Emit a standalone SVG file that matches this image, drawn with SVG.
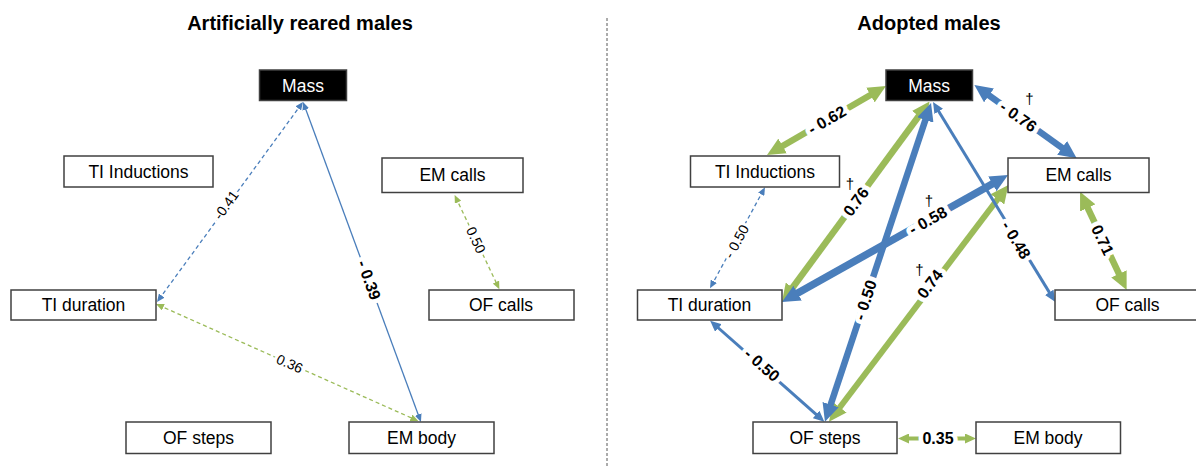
<svg xmlns="http://www.w3.org/2000/svg" width="1196" height="466" viewBox="0 0 1196 466">
<style>
.title{font-family:"Liberation Sans",Arial,sans-serif;font-weight:bold;font-size:20px;fill:#000;text-anchor:middle}
.box{fill:#fff;stroke:#404040;stroke-width:1.5}
.mbox{fill:#000;stroke:#404040;stroke-width:1.5}
.nt{font-family:"Liberation Sans",Arial,sans-serif;font-size:17.5px;fill:#000;text-anchor:middle;dominant-baseline:central}
.mt{font-family:"Liberation Sans",Arial,sans-serif;font-size:17.5px;fill:#fff;text-anchor:middle;dominant-baseline:central}
.b{stroke:#4a7ebb;fill:none}
.g{stroke:#9bbb59;fill:none}
.dash{stroke-dasharray:4 3}
.thin{stroke-width:1.3}
.lb{font-family:"Liberation Sans",Arial,sans-serif;font-weight:bold;font-size:16px;fill:#000;text-anchor:middle;dominant-baseline:central;stroke:#fff;stroke-width:9;stroke-linejoin:round;paint-order:stroke}
.ln{font-family:"Liberation Sans",Arial,sans-serif;font-size:14px;fill:#000;text-anchor:middle;dominant-baseline:central;stroke:#fff;stroke-width:6;stroke-linejoin:round;paint-order:stroke}
.dg{font-family:"Liberation Sans",Arial,sans-serif;font-size:15px;fill:#000;text-anchor:middle}
</style>
<defs>
<marker id="bL" markerUnits="userSpaceOnUse" markerWidth="18" markerHeight="17" viewBox="0 0 18 17" refX="9" refY="8.5" orient="auto-start-reverse"><path d="M0,0 L18,8.5 L0,17 z" fill="#4a7ebb"/></marker>
<marker id="gL" markerUnits="userSpaceOnUse" markerWidth="18" markerHeight="17" viewBox="0 0 18 17" refX="9" refY="8.5" orient="auto-start-reverse"><path d="M0,0 L18,8.5 L0,17 z" fill="#9bbb59"/></marker>
<marker id="bM" markerUnits="userSpaceOnUse" markerWidth="11" markerHeight="10" viewBox="0 0 11 10" refX="6" refY="5" orient="auto-start-reverse"><path d="M0,0 L11,5 L0,10 z" fill="#4a7ebb"/></marker>
<marker id="gM" markerUnits="userSpaceOnUse" markerWidth="11" markerHeight="10" viewBox="0 0 11 10" refX="6" refY="5" orient="auto-start-reverse"><path d="M0,0 L11,5 L0,10 z" fill="#9bbb59"/></marker>
<marker id="bS" markerUnits="userSpaceOnUse" markerWidth="8" markerHeight="7" viewBox="0 0 8 7" refX="5.5" refY="3.5" orient="auto-start-reverse"><path d="M0,0 L8,3.5 L0,7 z" fill="#4a7ebb"/></marker>
<marker id="gS" markerUnits="userSpaceOnUse" markerWidth="8" markerHeight="7" viewBox="0 0 8 7" refX="5.5" refY="3.5" orient="auto-start-reverse"><path d="M0,0 L8,3.5 L0,7 z" fill="#9bbb59"/></marker>
</defs>
<rect width="1196" height="466" fill="#fff"/>
<g id="titles">
<text class="title" x="300" y="30">Artificially reared males</text>
<text class="title" x="929" y="30">Adopted males</text>
<line x1="607" y1="18" x2="607" y2="466" stroke="#595959" stroke-width="1" stroke-dasharray="3 2"/>
</g>
<g id="connectors">
<line class="b dash thin" x1="301.5" y1="104" x2="158.5" y2="300" marker-start="url(#bS)" marker-end="url(#bS)"/>
<line class="b thin" x1="303.9" y1="104.3" x2="420.1" y2="419.7" marker-start="url(#bS)" marker-end="url(#bS)"/>
<line class="g dash thin" x1="455.7" y1="197.3" x2="498.3" y2="287" marker-start="url(#gS)" marker-end="url(#gS)"/>
<line class="g dash thin" x1="158.3" y1="305" x2="416" y2="420" marker-start="url(#gS)" marker-end="url(#gS)"/>
<line class="g" stroke-width="6.5" x1="774.8" y1="150.5" x2="878.2" y2="90.5" marker-start="url(#gL)" marker-end="url(#gL)"/>
<line class="g" stroke-width="6.5" x1="924.2" y1="108.8" x2="787.3" y2="294.8" marker-start="url(#gL)" marker-end="url(#gL)"/>
<line class="g" stroke-width="6" x1="834.4" y1="414.5" x2="1002.9" y2="192.2" marker-start="url(#gL)" marker-end="url(#gL)"/>
<line class="g" stroke-width="6.5" x1="1083.9" y1="199.8" x2="1122.8" y2="281.9" marker-start="url(#gL)" marker-end="url(#gL)"/>
<line class="g" stroke-width="4" x1="903" y1="438.5" x2="971" y2="438.5" marker-start="url(#gM)" marker-end="url(#gM)"/>
<line class="b" stroke-width="6.5" x1="981.7" y1="90.2" x2="1069.4" y2="153.1" marker-start="url(#bL)" marker-end="url(#bL)"/>
<line class="b" stroke-width="6.5" x1="928.2" y1="111.5" x2="827.8" y2="413.2" marker-start="url(#bL)" marker-end="url(#bL)"/>
<line class="b" stroke-width="3" x1="935.6" y1="106.3" x2="1052.4" y2="297.4" marker-start="url(#bM)" marker-end="url(#bM)"/>
<line class="b" stroke-width="7.5" x1="789.8" y1="297.6" x2="1000.2" y2="179.4" marker-start="url(#bL)" marker-end="url(#bL)"/>
<line class="b dash thin" x1="711.2" y1="286.1" x2="763.8" y2="189.5" marker-start="url(#bS)" marker-end="url(#bS)"/>
<line class="b" stroke-width="3" x1="713.9" y1="324" x2="820.6" y2="418.4" marker-start="url(#bM)" marker-end="url(#bM)"/>
</g>
<g id="connector-labels">
<text class="ln" transform="translate(226,205) rotate(-53.9)">-0.41</text>
<text class="lb" transform="translate(369,280) rotate(69.75)">- 0.39</text>
<text class="ln" transform="translate(476,240) rotate(64.6)">0.50</text>
<text class="ln" transform="translate(289.7,363.6) rotate(24)">0.36</text>
<text class="lb" transform="translate(827,120) rotate(-30.1)">- 0.62</text>
<text class="lb" transform="translate(1018.3,116.6) rotate(35.5)">- 0.76</text>
<text class="dg" x="1029.5" y="104">†</text>
<text class="lb" transform="translate(856,201.7) rotate(-53.66)">0.76</text>
<text class="dg" x="850" y="189">†</text>
<text class="lb" transform="translate(865.5,300) rotate(-71.6)">- 0.50</text>
<text class="lb" transform="translate(1016,240) rotate(58.6)">- 0.48</text>
<text class="lb" transform="translate(928,220.5) rotate(-29.3)">- 0.58</text>
<text class="dg" x="929" y="206">†</text>
<text class="lb" transform="translate(930,284) rotate(-52.9)">0.74</text>
<text class="dg" x="919.5" y="275">†</text>
<text class="lb" transform="translate(1102.5,240) rotate(64.6)">0.71</text>
<text class="ln" transform="translate(736.5,241.5) rotate(-61.4)">- 0.50</text>
<text class="lb" transform="translate(762,365) rotate(41.5)">- 0.50</text>
<text class="lb" x="938" y="438.5">0.35</text>
</g>
<g id="node-left-mass"><rect class="mbox" x="259.5" y="70" width="87" height="30.5"/><text class="mt" x="303" y="85.5">Mass</text></g>
<g id="node-left-ti-inductions"><rect class="box" x="64" y="156" width="149" height="31"/><text class="nt" x="138.5" y="171.5">TI Inductions</text></g>
<g id="node-left-em-calls"><rect class="box" x="382" y="158" width="141" height="34.5"/><text class="nt" x="452.5" y="175">EM calls</text></g>
<g id="node-left-ti-duration"><rect class="box" x="11" y="290" width="145" height="30"/><text class="nt" x="83.5" y="305">TI duration</text></g>
<g id="node-left-of-calls"><rect class="box" x="429" y="290" width="145" height="30"/><text class="nt" x="501" y="305">OF calls</text></g>
<g id="node-left-of-steps"><rect class="box" x="126" y="422" width="145" height="31.5"/><text class="nt" x="198.5" y="437.5">OF steps</text></g>
<g id="node-left-em-body"><rect class="box" x="349" y="422" width="145" height="31.5"/><text class="nt" x="421.5" y="437.5">EM body</text></g>
<g id="node-right-mass"><rect class="mbox" x="886" y="70" width="86.5" height="30.5"/><text class="mt" x="929.2" y="85.5">Mass</text></g>
<g id="node-right-ti-inductions"><rect class="box" x="690.5" y="156" width="149" height="31"/><text class="nt" x="765" y="171.5">TI Inductions</text></g>
<g id="node-right-em-calls"><rect class="box" x="1008" y="158" width="141" height="34.5"/><text class="nt" x="1078.5" y="175">EM calls</text></g>
<g id="node-right-ti-duration"><rect class="box" x="637.5" y="290" width="144.5" height="30"/><text class="nt" x="709.5" y="305">TI duration</text></g>
<g id="node-right-of-calls"><rect class="box" x="1055" y="290" width="145" height="30"/><text class="nt" x="1127.5" y="305">OF calls</text></g>
<g id="node-right-of-steps"><rect class="box" x="753" y="422" width="144" height="31.5"/><text class="nt" x="825" y="437.5">OF steps</text></g>
<g id="node-right-em-body"><rect class="box" x="976" y="422" width="144.5" height="31.5"/><text class="nt" x="1048" y="437.5">EM body</text></g>
</svg>
